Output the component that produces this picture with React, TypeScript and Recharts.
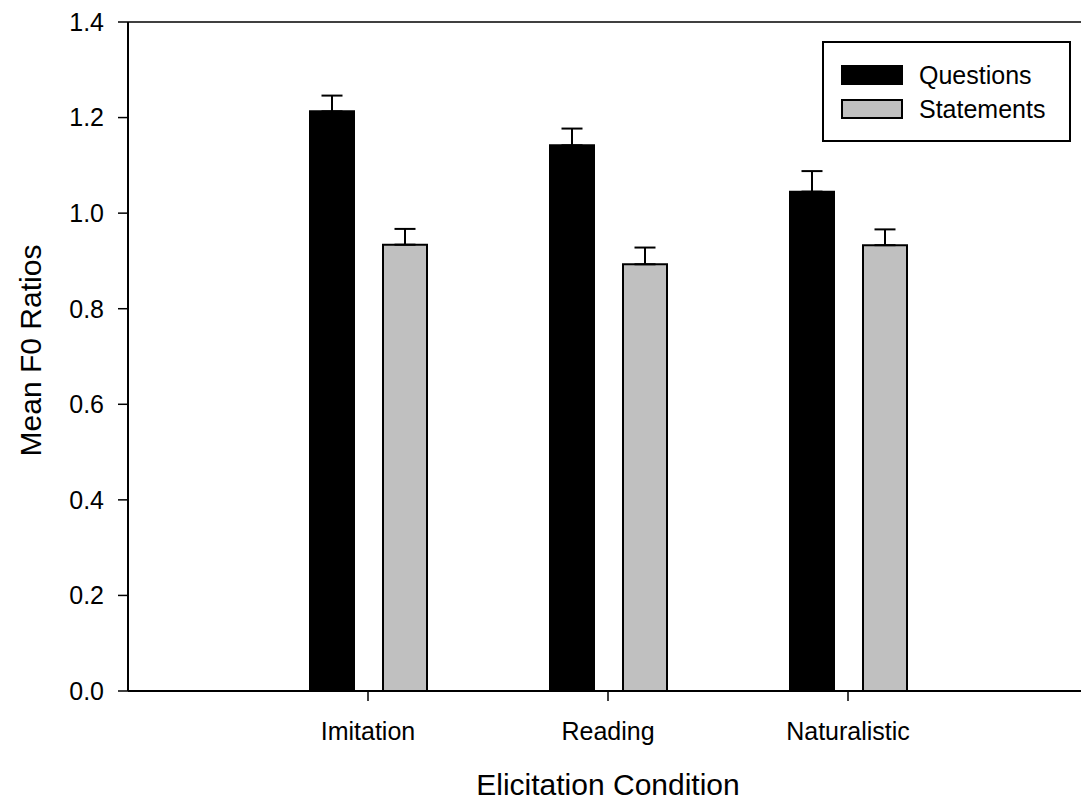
import { BarChart, Bar, XAxis, YAxis, ErrorBar, Legend, ReferenceLine, Label } from 'recharts';

const CATEGORIES = ['Imitation', 'Reading', 'Naturalistic'];
const QUESTIONS = [1.213, 1.142, 1.045];
const QUESTIONS_ERR = [0.033, 0.035, 0.043];
const STATEMENTS = [0.934, 0.893, 0.933];
const STATEMENTS_ERR = [0.033, 0.035, 0.033];
const Y_TICKS = [0, 0.2, 0.4, 0.6, 0.8, 1.0, 1.2, 1.4];
const SERIES_NAMES = ['Questions', 'Statements'];

const FONT = '"Liberation Sans", Arial, sans-serif';

const data = CATEGORIES.map((condition, i) => ({
  condition,
  questions: QUESTIONS[i],
  questionsErr: [0, QUESTIONS_ERR[i]],
  statements: STATEMENTS[i],
  statementsErr: [0, STATEMENTS_ERR[i]],
}));

const SWATCHES = [
  { background: '#000', border: '2px solid #000' },
  { background: '#c0c0c0', border: '2px solid #000' },
];

function LegendBox() {
  return (
    <div
      style={{
        position: 'relative',
        boxSizing: 'border-box',
        width: 249,
        height: 101,
        border: '2px solid #000',
        background: '#fff',
        fontFamily: FONT,
        fontSize: 25,
        color: '#000',
      }}
    >
      {SERIES_NAMES.map((name, i) => (
        <div
          key={name}
          style={{
            position: 'absolute',
            left: 17,
            top: 22 + i * 34,
            height: 20,
            display: 'flex',
            alignItems: 'center',
            whiteSpace: 'nowrap',
          }}
        >
          <span
            style={{
              display: 'inline-block',
              boxSizing: 'border-box',
              width: 62,
              height: 20,
              marginRight: 16,
              ...SWATCHES[i],
            }}
          />
          <span style={{ lineHeight: '20px' }}>{name}</span>
        </div>
      ))}
    </div>
  );
}

export default function App() {
  return (
    <div
      style={{
        position: 'absolute',
        left: 0,
        top: 0,
        width: 1081,
        height: 806,
        overflow: 'hidden',
        background: '#fff',
      }}
    >
      <BarChart
        width={1100}
        height={806}
        data={data}
        margin={{ top: 22, right: 12, bottom: 0, left: 0 }}
        barGap={29}
      >
        <XAxis
          dataKey="condition"
          padding={{ left: 120, right: 120 }}
          height={115}
          tickSize={10}
          tickMargin={21}
          axisLine={{ stroke: '#000', strokeWidth: 2 }}
          tickLine={{ stroke: '#000', strokeWidth: 1.5 }}
          tick={{ fill: '#000', fontSize: 25, fontFamily: FONT }}
        >
          <Label
            content={({ viewBox }: any) => (
              <text
                x={viewBox.x + viewBox.width / 2}
                y={viewBox.y + 104}
                textAnchor="middle"
                fill="#000"
                fontSize={30}
                fontFamily={FONT}
              >
                Elicitation Condition
              </text>
            )}
          />
        </XAxis>
        <YAxis
          width={128}
          domain={[0, 1.4]}
          ticks={Y_TICKS}
          interval={0}
          tickFormatter={(v: number) => v.toFixed(1)}
          tickSize={10}
          tickMargin={14}
          axisLine={{ stroke: '#000', strokeWidth: 2 }}
          tickLine={{ stroke: '#000', strokeWidth: 1.5 }}
          tick={{ fill: '#000', fontSize: 25, fontFamily: FONT }}
        >
          <Label
            content={({ viewBox }: any) => {
              const cx = viewBox.x + 41;
              const cy = viewBox.y + viewBox.height / 2 - 6;
              return (
                <text
                  x={cx}
                  y={cy}
                  transform={`rotate(-90 ${cx} ${cy})`}
                  textAnchor="middle"
                  fill="#000"
                  fontSize={30}
                  fontFamily={FONT}
                >
                  Mean F0 Ratios
                </text>
              );
            }}
          />
        </YAxis>
        <ReferenceLine y={1.4} stroke="#000" strokeWidth={1.5} />
        <Legend
          layout="vertical"
          align="center"
          verticalAlign="middle"
          content={() => <LegendBox />}
          wrapperStyle={{ left: 822, top: 41, width: 249, height: 101 }}
        />
        <Bar
          dataKey="questions"
          name="Questions"
          fill="#000"
          stroke="#000"
          strokeWidth={2}
          barSize={44}
          isAnimationActive={false}
        >
          <ErrorBar dataKey="questionsErr" direction="y" width={10.5} stroke="#000" strokeWidth={2} />
        </Bar>
        <Bar
          dataKey="statements"
          name="Statements"
          fill="#c0c0c0"
          stroke="#000"
          strokeWidth={2}
          barSize={44}
          isAnimationActive={false}
        >
          <ErrorBar dataKey="statementsErr" direction="y" width={10.5} stroke="#000" strokeWidth={2} />
        </Bar>
      </BarChart>
    </div>
  );
}
